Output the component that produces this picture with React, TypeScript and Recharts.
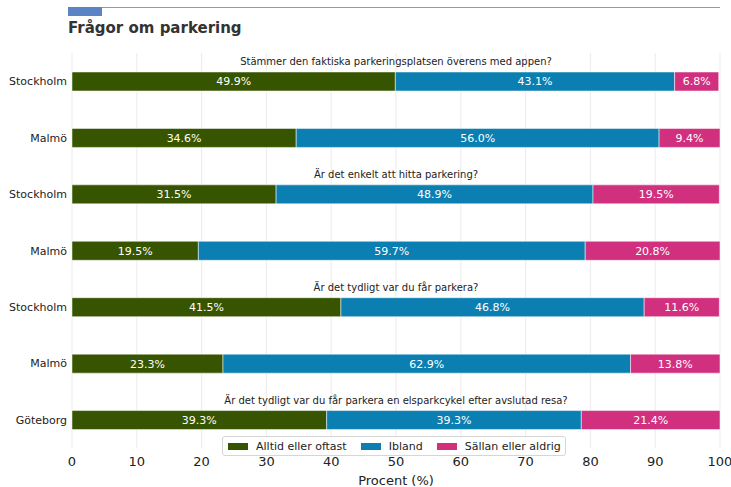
import React from "react";
import { BarChart, Bar, XAxis, YAxis, CartesianGrid, LabelList } from "recharts";

const cities = ["Stockholm", "Malmö", "Stockholm", "Malmö", "Stockholm", "Malmö", "Göteborg"];
const alltid = [49.9, 34.6, 31.5, 19.5, 41.5, 23.3, 39.3];
const ibland = [43.1, 56.0, 48.9, 59.7, 46.8, 62.9, 39.3];
const sallan = [6.8, 9.4, 19.5, 20.8, 11.6, 13.8, 21.4];
const questions: (string | null)[] = [
  "Stämmer den faktiska parkeringsplatsen överens med appen?",
  null,
  "Är det enkelt att hitta parkering?",
  null,
  "Är det tydligt var du får parkera?",
  null,
  "Är det tydligt var du får parkera en elsparkcykel efter avslutad resa?",
];
const xTicks = [0, 10, 20, 30, 40, 50, 60, 70, 80, 90, 100];
const seriesNames = ["Alltid eller oftast", "Ibland", "Sällan eller aldrig"];
const colors = ["#375500", "#0b7fb1", "#d1307f"];

const data = cities.map((c, i) => ({
  id: i,
  city: c,
  a: alltid[i],
  b: ibland[i],
  c: sallan[i],
}));

const FONT = "'DejaVu Sans', sans-serif";
const W = 731;
const H = 487;
const M = { top: 53, right: 11, bottom: 0, left: 0 };
const YW = 72;
const XH = 39;
const plotCenter = M.left + YW + (W - M.left - YW - M.right) / 2;

const CityTick = (props: any) => {
  const { x, y, payload } = props;
  const idx = payload.value as number;
  const q = questions[idx];
  return (
    <g>
      <text x={x + 3} y={y} dy={4} textAnchor="end" fontSize={11} fill="#222" fontFamily={FONT}>
        {cities[idx]}
      </text>
      {q ? (
        <text x={plotCenter} y={y - 20} dy={4} textAnchor="middle" fontSize={10} fill="#222" fontFamily={FONT}>
          {q}
        </text>
      ) : null}
    </g>
  );
};

const LegendBox = () => (
  <div
    style={{
      position: "absolute",
      left: 222,
      top: 436,
      display: "flex",
      alignItems: "center",
      border: "1px solid #d6d6d6",
      borderRadius: 3,
      background: "rgba(255,255,255,0.85)",
      height: 20,
      boxSizing: "border-box",
      padding: "0 4px 0 5px",
      fontFamily: FONT,
      fontSize: 11,
      color: "#222",
      whiteSpace: "nowrap",
    }}
  >
    {seriesNames.map((n, i) => (
      <div key={n} style={{ display: "flex", alignItems: "center", marginRight: i < 2 ? 14 : 0 }}>
        <span style={{ display: "inline-block", width: 20, height: 7, background: colors[i], marginRight: 8 }} />
        <span>{n}</span>
      </div>
    ))}
  </div>
);

const fmt = (v: any) => `${Number(v).toFixed(1)}%`;

export default function App() {
  return (
    <div style={{ position: "absolute", left: 0, top: 0, width: W, height: H, background: "#fff" }}>
      <div style={{ position: "absolute", left: 68, top: 7, width: 652, height: 1, background: "#7f9ccc" }} />
      <div style={{ position: "absolute", left: 68, top: 7, width: 34, height: 9, background: "#5b84c4" }} />
      <div
        style={{
          position: "absolute",
          left: 68,
          top: 18,
          fontFamily: FONT,
          fontWeight: "bold",
          fontSize: 15,
          color: "#333",
          lineHeight: "20px",
        }}
      >
        Frågor om parkering
      </div>
      <BarChart
        width={W}
        height={H}
        data={data}
        layout="vertical"
        margin={M}
        barSize={19}
        style={{ position: "absolute", left: 0, top: 0 }}
      >
        <CartesianGrid horizontal={false} vertical={true} stroke="#ebebeb" />
        <XAxis
          type="number"
          domain={[0, 100]}
          ticks={xTicks}
          tickLine={false}
          axisLine={false}
          height={XH}
          tick={{ fontSize: 13, fill: "#222", fontFamily: FONT }}
          tickMargin={3}
          label={{ value: "Procent (%)", position: "insideBottom", offset: 2, fontSize: 13, fill: "#222", fontFamily: FONT }}
        />
        <YAxis
          type="category"
          dataKey="id"
          width={YW}
          tickLine={false}
          axisLine={false}
          tick={<CityTick />}
          interval={0}
        />
        {(["a", "b", "c"] as const).map((k, i) => (
          <Bar
            key={k}
            dataKey={k}
            stackId="s"
            name={seriesNames[i]}
            fill={colors[i]}
            stroke="#ffffff"
            strokeOpacity={0.5}
            strokeWidth={1}
            isAnimationActive={false}
          >
            <LabelList dataKey={k} position="center" formatter={fmt} fill="#ffffff" fontSize={11} fontFamily={FONT} />
          </Bar>
        ))}
      </BarChart>
      <LegendBox />
    </div>
  );
}
